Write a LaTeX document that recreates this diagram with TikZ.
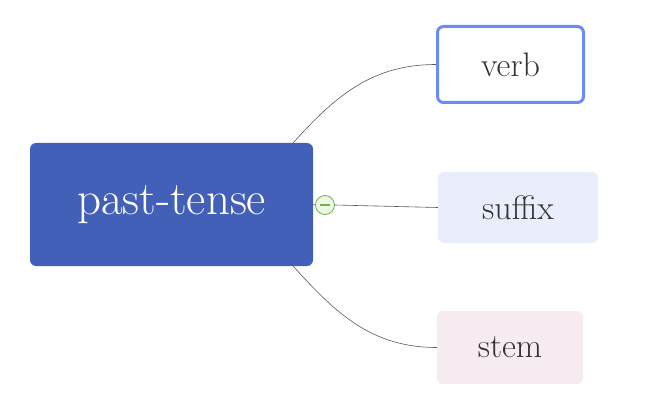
\documentclass[tikz,border=0pt]{standalone}
\usetikzlibrary{shapes}
\definecolor{rootblue}{HTML}{4360B9}
\definecolor{verbline}{HTML}{6A8CF8}
\definecolor{suffixfill}{HTML}{E9EDFC}
\definecolor{stemfill}{HTML}{F5EBF1}
\definecolor{leaftext}{HTML}{333333}
\definecolor{togglegreen}{HTML}{6BB54A}
\definecolor{togglefill}{HTML}{EEF6E8}
\tikzset{
  rootbox/.style={rectangle, rounded corners=6pt, fill=rootblue, text=white,
    minimum width=283pt, minimum height=123pt, font=\fontsize{47}{50}\selectfont},
  leafbox/.style={rectangle, rounded corners=6pt, text=leaftext,
    font=\fontsize{34}{38}\selectfont},
  link/.style={draw=black!65, line width=0.6pt}
}
\begin{document}
\begin{tikzpicture}[x=1pt,y=1pt]
\useasboundingbox (0,0) rectangle (646,416);
\node[rootbox] (root) at (171.5,211.5) {past-tense};
\node[leafbox, draw=verbline, line width=3pt, minimum width=146pt, minimum height=76pt] (verb) at (510.5,351.5) {verb};
\node[leafbox, fill=suffixfill, minimum width=160pt, minimum height=71pt] (suffix) at (518,208.5) {suffix};
\node[leafbox, fill=stemfill, minimum width=146pt, minimum height=73pt] (stem) at (510,68.5) {stem};
\node[circle, draw=togglegreen, fill=togglefill, line width=0.8pt, minimum size=19pt, inner sep=0pt] (toggle) at (325,211) {};
% connectors
\draw[link] ([xshift=-20pt]root.north east) to[out=48,in=180] (verb.west);
\draw[link] (root.east) -- (toggle.west);
\draw[link] (toggle.east) -- (suffix.west);
\draw[link] ([xshift=-20pt]root.south east) to[out=-48,in=180] (stem.west);
\draw[togglegreen, line width=1.8pt] ([xshift=-5pt]toggle.center) -- ([xshift=5pt]toggle.center);
\end{tikzpicture}
\end{document}
